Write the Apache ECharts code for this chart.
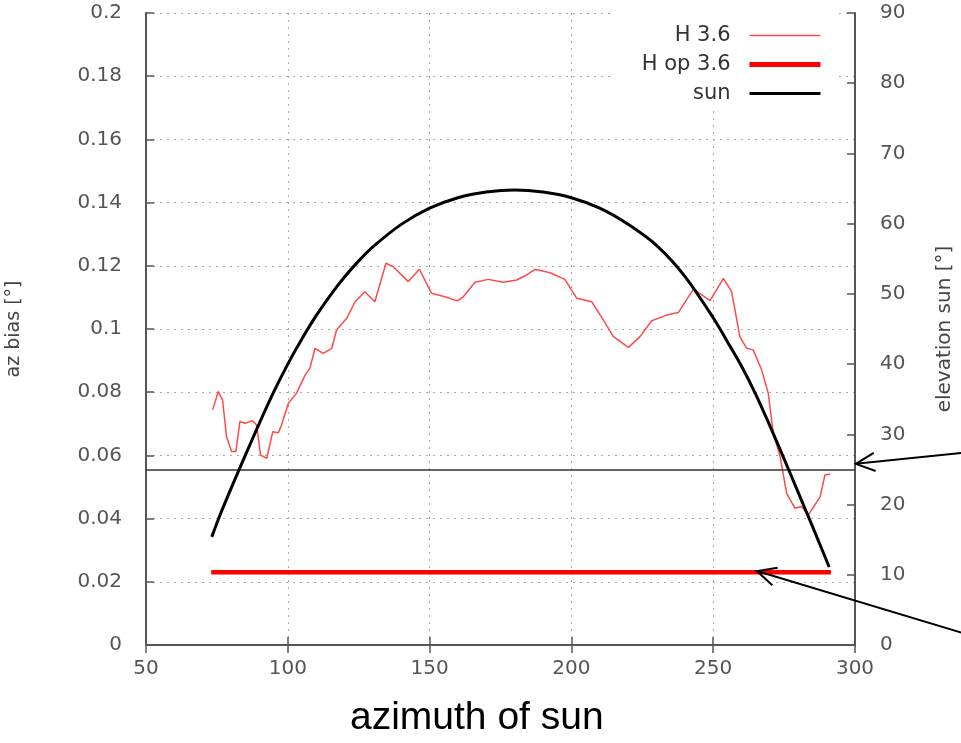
<!DOCTYPE html>
<html><head><meta charset="utf-8">
<script src="https://cdn.jsdelivr.net/npm/echarts@6/dist/echarts.min.js"></script>
<style>html,body{margin:0;padding:0;background:#fff}#c{width:961px;height:743px}</style>
</head><body><div id="c"></div>
<script>
// ---- data ----
const azH = [73.5,75.5,77.0,78.4,80.2,81.7,83.1,84.9,87.6,89.0,90.4,92.6,94.7,96.7,97.8,100.2,103.1,106.1,107.8,109.6,112.5,115.5,117.2,120.8,123.7,127.2,130.7,134.6,137.2,142.5,146.4,150.7,155.4,159.8,161.9,166.0,170.7,176.0,180.7,184.2,187.2,192.5,197.7,201.9,207.2,211.3,214.8,220.1,224.2,228.3,233.6,237.7,243.0,248.9,253.6,256.5,259.4,261.8,264.1,267.1,269.4,271.2,273.6,275.9,278.8,281.2,283.5,287.7,289.4,291.2];
const biasH = [0.0744,0.0802,0.0775,0.0659,0.0612,0.0612,0.0707,0.0702,0.0710,0.0696,0.0601,0.0591,0.0675,0.0672,0.0696,0.0765,0.0797,0.0854,0.0876,0.0939,0.0923,0.0939,0.0997,0.1034,0.1086,0.1118,0.1086,0.1208,0.1197,0.1150,0.1189,0.1113,0.1102,0.1089,0.1102,0.1148,0.1157,0.1148,0.1155,0.1171,0.1189,0.1178,0.1157,0.1097,0.1086,0.1028,0.0976,0.0942,0.0976,0.1026,0.1044,0.1052,0.1126,0.1090,0.1160,0.1118,0.0976,0.0939,0.0934,0.0870,0.0797,0.0670,0.0596,0.0480,0.0433,0.0438,0.0411,0.0469,0.0538,0.0541];
const azOp = [73.0, 291.5];
const biasOp = [0.023, 0.023];
const azSun = [73.2,76,80,85,90,95,100,105,110,115,120,125,130,140,150,160,170,180,190,200,210,220,230,240,250,255,260,265,270,275,280,285,290.9];
const elevSun = [15.4,18.4,22.3,27.0,31.6,36.0,40.0,43.6,46.9,49.8,52.4,54.7,56.7,59.9,62.2,63.7,64.5,64.8,64.5,63.7,62.2,59.9,56.9,52.5,46.6,43.2,39.7,35.7,31.2,26.5,21.7,16.9,11.1];
const elevThreshold = 25;
const seriesNames = ['H 3.6', 'H op 3.6', 'sun'];
// annotation arrow tips (azimuth, value, axis index)
const arrowAz = [300.3, 265.4];
const arrowVal = [25.8, 0.0234];
const arrowAxis = [1, 0];

const zip = (a, b) => a.map((v, i) => [v, b[i]]);
const FONT = 'DejaVu Sans, Verdana, sans-serif';
const labelStyle = { color: '#555', fontSize: 20, fontFamily: FONT };
const gridLine = { show: true, lineStyle: { color: '#aaa', type: [2, 5], width: 1 } };
const axLine = { show: true, lineStyle: { color: '#555', width: 2 } };
const tick = { show: true, inside: true, length: 8, lineStyle: { color: '#555', width: 1.5 } };
const colH = '#ff4a4a', colOp = '#ff0000', colSun = '#000000';
const wH = 1.5, wOp = 4.5, wSun = 3;

const chart = echarts.init(document.getElementById('c'), null, { renderer: 'canvas' });
chart.setOption({
  animation: false,
  backgroundColor: '#fff',
  title: {
    text: 'azimuth of sun', left: 345, top: 694,
    textStyle: { fontSize: 39, fontWeight: 'normal', color: '#000', fontFamily: 'Liberation Sans, Arial, sans-serif' }
  },
  grid: { left: 146, right: 106, top: 13, bottom: 98, outerBoundsMode: 'none', containLabel: false },
  legend: {
    data: [
      { name: seriesNames[0], lineStyle: { width: wH, color: colH } },
      { name: seriesNames[1], lineStyle: { width: 5, color: colOp } },
      { name: seriesNames[2], lineStyle: { width: wSun, color: colSun } }
    ],
    orient: 'vertical', align: 'right',
    right: 123, top: 13, padding: [12, 15, 2, 30],
    backgroundColor: '#fff', itemWidth: 71, itemHeight: 14, itemGap: 8,
    itemStyle: { opacity: 0 },
    textStyle: { color: '#333', fontSize: 21, fontFamily: FONT, padding: [2, 14, 2, 0] }
  },
  xAxis: [{
    type: 'value', min: 50, max: 300, interval: 50, position: 'bottom',
    axisLine: axLine, axisTick: tick,
    axisLabel: Object.assign({ margin: 14 }, labelStyle),
    splitLine: gridLine
  }, {
    type: 'value', min: 50, max: 300, interval: 50, position: 'top',
    axisLine: axLine, axisTick: tick,
    axisLabel: { show: false }, splitLine: { show: false }
  }],
  yAxis: [{
    type: 'value', min: 0, max: 0.2, interval: 0.02, position: 'left',
    name: 'az bias [°]', nameLocation: 'middle', nameGap: 122, nameRotate: 90,
    nameTextStyle: { color: '#444', fontSize: 19, fontFamily: FONT },
    axisLine: axLine, axisTick: tick,
    axisLabel: Object.assign({ margin: 24 }, labelStyle),
    splitLine: gridLine
  }, {
    type: 'value', min: 0, max: 90, interval: 10, position: 'right',
    name: 'elevation sun [°]', nameLocation: 'middle', nameGap: 80, nameRotate: 90,
    nameTextStyle: { color: '#444', fontSize: 20, fontFamily: FONT },
    axisLine: axLine, axisTick: tick,
    axisLabel: Object.assign({ margin: 25 }, labelStyle),
    splitLine: { show: false }
  }],
  series: [{
    name: seriesNames[0], type: 'line', xAxisIndex: 0, yAxisIndex: 0,
    data: zip(azH, biasH), symbol: 'none', z: 3,
    lineStyle: { color: colH, width: wH }, itemStyle: { color: colH }
  }, {
    name: seriesNames[1], type: 'line', xAxisIndex: 0, yAxisIndex: 0,
    data: zip(azOp, biasOp), symbol: 'none', z: 4,
    lineStyle: { color: colOp, width: wOp }, itemStyle: { color: colOp }
  }, {
    name: seriesNames[2], type: 'line', xAxisIndex: 0, yAxisIndex: 1,
    data: zip(azSun, elevSun), symbol: 'none', smooth: 0.3, z: 5,
    lineStyle: { color: colSun, width: wSun }, itemStyle: { color: colSun },
    markLine: {
      silent: true, symbol: 'none', label: { show: false },
      lineStyle: { color: '#333', width: 1.5, type: 'solid' },
      data: [{ yAxis: elevThreshold }]
    }
  }]
});

// annotation arrows coming from the right edge
const W = chart.getWidth();
const tailDy = [-11, 62];
const gfx = [];
arrowAz.forEach((az, i) => {
  const tip = chart.convertToPixel({ xAxisIndex: 0, yAxisIndex: arrowAxis[i] }, [az, arrowVal[i]]);
  const tail = [W + 2, tip[1] + tailDy[i]];
  const ang = Math.atan2(tail[1] - tip[1], tail[0] - tip[0]);
  const L = 21, a = 0.45;
  const h1 = [tip[0] + L * Math.cos(ang + a), tip[1] + L * Math.sin(ang + a)];
  const h2 = [tip[0] + L * Math.cos(ang - a), tip[1] + L * Math.sin(ang - a)];
  gfx.push({ type: 'polyline', z: 100, shape: { points: [tail, tip] }, style: { stroke: '#000', lineWidth: 2, fill: null } });
  gfx.push({ type: 'polyline', z: 100, shape: { points: [h1, tip, h2] }, style: { stroke: '#000', lineWidth: 2, fill: null } });
});
chart.setOption({ graphic: gfx });
</script>
</body></html>
